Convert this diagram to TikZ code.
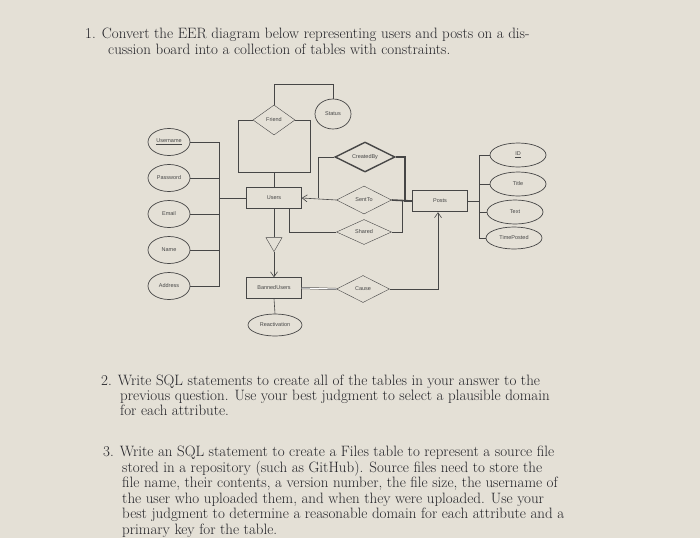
\documentclass[tikz,border=0pt]{standalone}
\usepackage{fontspec}
\newfontfamily\dg{Liberation Sans}
\usetikzlibrary{shapes.geometric,arrows.meta}
\definecolor{paper}{RGB}{228,224,214}
\definecolor{ink}{RGB}{70,70,70}
\definecolor{txt}{RGB}{35,35,40}
\begin{document}
\begin{tikzpicture}[x=1pt,y=-1pt,
  ent/.style={draw=ink,fill=paper,minimum width=55pt,minimum height=21pt,font=\dg\fontsize{5.5}{6}\selectfont,text=ink},
  attr/.style={draw=ink,line width=0.7pt,ellipse,inner sep=0pt,font=\dg\fontsize{5.5}{6}\selectfont,text=ink},
  rel/.style={draw=ink,diamond,aspect=2,inner sep=0pt,font=\dg\fontsize{5.5}{6}\selectfont,text=ink},
  ln/.style={draw=ink,line width=0.6pt},
  q/.style={anchor=base west,inner sep=0pt,text=txt,font=\fontsize{15}{15}\selectfont}]
\fill[paper] (0,0) rectangle (700,538);
\useasboundingbox (0,0) rectangle (700,538);
% questions
\node[q] (q1a) at (85,38) {1. Convert the EER diagram below representing users and posts on a dis-};
\node[q] (q1b) at (108,54) {cussion board into a collection of tables with constraints.};
\node[q] (q2a) at (101,385) {2. Write SQL statements to create all of the tables in your answer to the};
\node[q] (q2b) at (120,400) {previous question. Use your best judgment to select a plausible domain};
\node[q] (q2c) at (120,415) {for each attribute.};
\node[q] (q3a) at (103,456) {3. Write an SQL statement to create a Files table to represent a source file};
\node[q] (q3b) at (122,472) {stored in a repository (such as GitHub). Source files need to store the};
\node[q] (q3c) at (122,487) {file name, their contents, a version number, the file size, the username of};
\node[q] (q3d) at (122,503) {the user who uploaded them, and when they were uploaded. Use your};
\node[q] (q3e) at (122,518) {best judgment to determine a reasonable domain for each attribute and a};
\node[q] (q3f) at (122,534) {primary key for the table.};
% entities
\node[ent] (users) at (274,198) {Users};
\node[ent] (banned) at (274,288) {BannedUsers};
\node[ent,line width=1.4pt] (posts) at (440,201) {Posts};
% attributes left
\node[attr,minimum width=42pt,minimum height=27pt] (un) at (169,142) {\underline{Username}};
\node[attr,minimum width=42pt,minimum height=27pt] (pw) at (169,178) {Password};
\node[attr,minimum width=42pt,minimum height=27pt] (em) at (169,214) {Email};
\node[attr,minimum width=42pt,minimum height=27pt] (nm) at (169,250) {Name};
\node[attr,minimum width=42pt,minimum height=27pt] (ad) at (169,286) {Address};
\node[attr,minimum width=36pt,minimum height=30pt] (st) at (333,114) {Status};
\node[attr,minimum width=54pt,minimum height=22pt] (re) at (275,325) {Reactivation};
\node[attr,minimum width=56pt,minimum height=24pt] (id) at (518,155) {\underline{ID}};
\node[attr,minimum width=56pt,minimum height=24pt] (ti) at (518,184) {Title};
\node[attr,minimum width=56pt,minimum height=24pt] (tx) at (515,212) {Text};
\node[attr,minimum width=56pt,minimum height=22pt] (tp) at (514,238) {TimePosted};
% relationships
\node[rel,minimum width=42pt,minimum height=30pt,aspect=1.4] (fr) at (274,120) {Friend};
\node[rel,minimum width=60pt,minimum height=30pt,line width=1.4pt] (cb) at (365,157) {CreatedBy};
\node[rel,minimum width=55pt,minimum height=28pt] (se) at (364,200) {SentTo};
\node[rel,minimum width=55pt,minimum height=25pt] (sh) at (364,232) {Shared};
\node[rel,minimum width=53pt,minimum height=27pt] (ca) at (363,289) {Cause};
\node[draw=ink,isosceles triangle,shape border rotate=-90,isosceles triangle apex angle=60,minimum height=14pt,inner sep=0pt,anchor=apex] (tri) at (274,252) {};
% connectors left
\coordinate (vx) at (219,198);
\draw[ln] (un.east) -| (vx) (pw.east) -- (pw.east -| vx) (em.east) -- (em.east -| vx) (nm.east) -- (nm.east -| vx) (ad.east) -| (vx) (vx) -- (users.west);
% friend loop
\draw[ln] (fr.west) -- (238,120) -- (238,172) -- (310,172) -- (310,120) -- (fr.east);
\draw[ln] (274,172) -- (users.north);
\draw[ln] (fr.north) -- (274,84) -| (st.north);
% specialization
\draw[ln] (users.south) -- (tri.north);
\draw[ln,-{Straight Barb[length=5pt,width=7pt]}] (tri.apex) -- (banned.north);
\draw[ln] (banned.south) -- (re.north);
% relationships to users
\draw[ln,-{Straight Barb[length=5pt,width=7pt]}] (se.west) -- (users.east);
\draw[ln] (cb.west) -- (318,157) -- (318,198);
\draw[ln] (sh.west) -- (289,232) -- (users.south -| 289,0);
% to posts
\draw[draw=ink,line width=1.6pt] (cb.east) -- (405,157) -- (405,201) -- (posts.west);
\draw[draw=ink,line width=1.6pt] (se.east) -- (posts.west);
\draw[ln] (sh.east) -- (402,232) -- (402,201);
\draw[draw=ink,double,double distance=1pt,line width=0.5pt] (banned.east) -- (ca.west);
\draw[ln,-{Straight Barb[length=5pt,width=7pt]}] (ca.east) -- (438,289) -- (posts.south -| 438,0);
% right attributes
\draw[ln] (posts.east) -- (479,201);
\draw[ln] (id.west) -- (479,155) -- (479,238) -- (tp.west);
\draw[ln] (ti.west) -- (479,184) (tx.west) -- (479,212);
\end{tikzpicture}
\end{document}
